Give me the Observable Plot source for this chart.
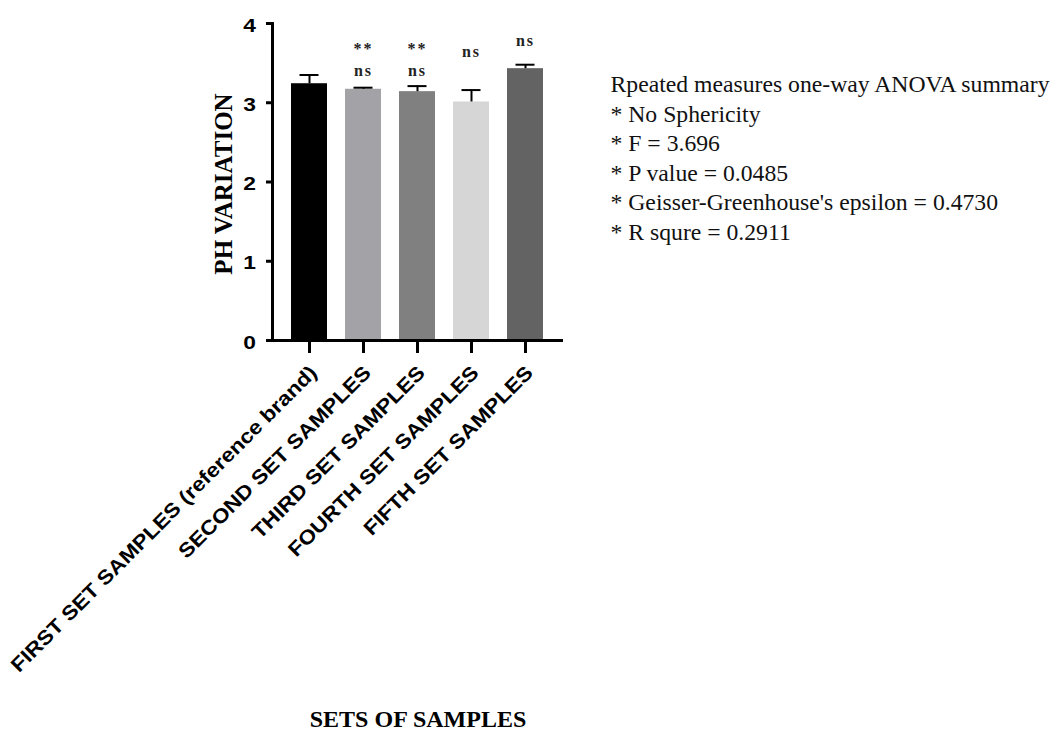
<!DOCTYPE html>
<html>
<head>
<meta charset="utf-8">
<script src="https://cdn.jsdelivr.net/npm/d3@7"></script>
<script src="https://cdn.jsdelivr.net/npm/@observablehq/plot@0.6"></script>
<style>
  html, body { margin: 0; padding: 0; background: #fff; }
  #chart svg { display: block; }
</style>
</head>
<body>
<div id="chart"></div>
<script>
// ---- data ----
const categories = [
  "FIRST SET SAMPLES (reference brand)",
  "SECOND SET SAMPLES",
  "THIRD SET SAMPLES",
  "FOURTH SET SAMPLES",
  "FIFTH SET SAMPLES"
];
const means = [3.24, 3.17, 3.14, 3.01, 3.43];
const upper = [3.35, 3.19, 3.21, 3.16, 3.48];
const barColors = ["#000000", "#a3a3a7", "#808080", "#d6d6d6", "#636363"];
const yTicks = [0, 1, 2, 3, 4];
const annoCategory = [categories[1], categories[1], categories[2], categories[2], categories[3], categories[4]];
const annoText = ["**", "ns", "**", "ns", "ns", "ns"];
const annoY = [3.68, 3.40, 3.68, 3.40, 3.64, 3.78];
const anovaLines = [
  "Rpeated measures one-way ANOVA summary",
  "* No Sphericity",
  "* F = 3.696",
  "* P value = 0.0485",
  "* Geisser-Greenhouse's epsilon = 0.4730",
  "* R squre = 0.2911"
];
const yTitle = "PH VARIATION";
const xTitle = "SETS OF SAMPLES";

// ---- tables ----
const bars = categories.map((c, i) => ({category: c, mean: means[i], upper: upper[i]}));
const annos = annoText.map((t, i) => ({category: annoCategory[i], text: t, y: annoY[i]}));

const SANS = "'Liberation Sans', Arial, Helvetica, sans-serif";
const SERIF = "'Liberation Serif', 'Times New Roman', Times, serif";

const svg = Plot.plot({
  width: 1063,
  height: 736,
  marginTop: 23,
  marginBottom: 396,
  marginLeft: 272,
  marginRight: 500,
  style: {background: "#fff", color: "#000", overflow: "visible"},
  x: {domain: categories, paddingInner: 0.327, paddingOuter: 0.31},
  y: {domain: [0, 4]},
  color: {domain: categories, range: barColors},
  marks: [
    Plot.barY(bars, {x: "category", y: "mean", fill: "category"}),
    Plot.ruleX(bars, {x: "category", y1: "mean", y2: "upper", stroke: "#000", strokeWidth: 2}),
    Plot.tickY(bars, {x: "category", y: "upper", stroke: "#000", strokeWidth: 2, insetLeft: 8.5, insetRight: 8.5}),
    Plot.ruleY([0], {stroke: "#000", strokeWidth: 3}),
    Plot.frame({anchor: "left", stroke: "#000", strokeWidth: 3}),
    Plot.axisY({ticks: yTicks, tickSize: 6, strokeWidth: 3, tickFormat: () => "", label: null}),
    Plot.axisX({tickSize: 13, strokeWidth: 3, tickFormat: () => "", label: null}),
    Plot.text(yTicks, {
      y: d => d, text: d => String(d), frameAnchor: "left", textAnchor: "end", lineAnchor: "middle",
      dx: -16.5, dy: 2, fontSize: 19, fontWeight: "bold", fontFamily: SANS, fill: "#000"
    }),
    Plot.text(categories, {
      x: d => d, text: d => d, frameAnchor: "bottom", rotate: -45, textAnchor: "end", lineAnchor: "middle",
      dx: 4, dy: 29, fontSize: 20, fontWeight: "bold", fontFamily: SANS, fill: "#000"
    }),
    Plot.text(annos, {
      x: "category", y: "y", text: "text", fontSize: 16, fontWeight: "bold", fontFamily: SERIF,
      fill: "#222", lineAnchor: "middle"
    }),
    Plot.text([yTitle], {
      frameAnchor: "left", rotate: -90, textAnchor: "middle", lineAnchor: "middle",
      dx: -48.7, dy: 2, fontSize: 25, fontWeight: "bold", fontFamily: SERIF, fill: "#000"
    }),
    Plot.text([xTitle], {
      frameAnchor: "bottom", textAnchor: "middle", lineAnchor: "middle",
      dy: 379, fontSize: 24, fontWeight: "bold", fontFamily: SERIF, fill: "#000"
    }),
    Plot.text([anovaLines.join("\n")], {
      frameAnchor: "top-left", textAnchor: "start", lineAnchor: "top", lineHeight: 29.5 / 23.7,
      dx: 338, dy: 48, fontSize: 23.7, fontFamily: SERIF, fill: "#111"
    })
  ]
});

// widen the sans-serif labels horizontally like the reference
const root = d3.select(svg);
function widen(sel, k) {
  sel.each(function () {
    const t = this.getAttribute("transform");
    this.setAttribute("transform", (t ? t + " " : "") + `scale(${k},1)`);
  });
}
widen(root.selectAll("text").filter(function () { return categories.includes(this.textContent); }), 1.13);
widen(root.selectAll("text").filter(function () { return yTicks.map(String).includes(this.textContent); }), 1.2);
root.selectAll("text").filter(function () { return this.textContent === "ns" || this.textContent === "**"; })
  .style("letter-spacing", "2px");

document.getElementById("chart").appendChild(svg);
</script>
</body>
</html>
